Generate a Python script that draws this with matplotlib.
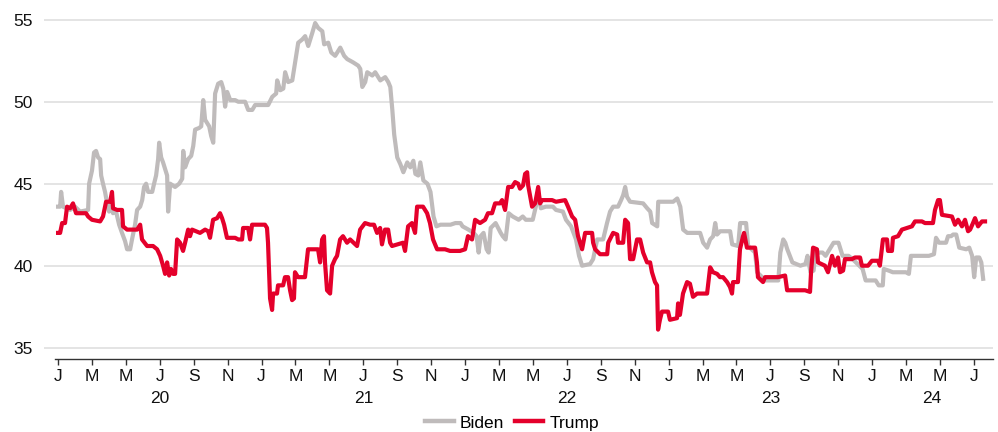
import matplotlib
matplotlib.use("Agg")
import matplotlib.pyplot as plt
import matplotlib.transforms as mtransforms
from matplotlib.lines import Line2D

plt.rcParams['font.family'] = ['Liberation Sans', 'DejaVu Sans']

# x values: months since Jan 2020
biden_months = [0.00, 0.12, 0.18, 0.29, 0.71, 1.00, 1.30, 1.77, 1.83, 2.00, 2.12, 2.24, 2.36, 2.48, 2.54,
                2.65, 2.77, 2.89, 3.01, 3.13, 3.24, 3.42, 3.60, 3.77, 3.95, 4.07, 4.25, 4.36, 4.54, 4.66,
                4.84, 4.96, 5.07, 5.19, 5.31, 5.55, 5.66, 5.78, 5.90, 5.96, 6.08, 6.19, 6.31, 6.43, 6.49,
                6.61, 6.90, 7.14, 7.32, 7.38, 7.49, 7.67, 7.85, 7.97, 8.08, 8.32, 8.44, 8.56, 8.67, 8.91,
                9.03, 9.15, 9.26, 9.44, 9.62, 9.74, 9.85, 9.97, 10.15, 10.44, 10.62, 11.03, 11.21, 11.45,
                11.62, 12.39, 12.63, 12.86, 12.92, 13.10, 13.28, 13.39, 13.57, 13.81, 13.98, 14.16, 14.40,
                14.57, 14.75, 14.99, 15.16, 15.34, 15.58, 15.69, 15.93, 16.11, 16.34, 16.64, 16.87, 17.05,
                17.40, 17.70, 17.82, 17.94, 18.11, 18.23, 18.53, 18.70, 19.00, 19.29, 19.47, 19.59, 19.71,
                19.82, 20.00, 20.18, 20.36, 20.59, 20.77, 20.95, 21.07, 21.24, 21.36, 21.54, 21.78, 21.96,
                22.14, 22.31, 22.55, 23.14, 23.43, 23.73, 23.85, 24.20, 24.50, 24.68, 24.80, 24.92, 25.09,
                25.27, 25.39, 25.51, 25.80, 26.10, 26.22, 26.39, 26.57, 26.81, 27.16, 27.40, 27.58, 27.99,
                28.17, 28.35, 28.47, 28.76, 29.18, 29.36, 29.77, 29.95, 30.25, 30.54, 30.72, 30.90, 31.37,
                31.55, 31.79, 32.14, 32.37, 32.55, 32.73, 33.02, 33.20, 33.32, 33.44, 33.55, 33.73, 34.50,
                34.74, 34.92, 35.03, 35.33, 35.39, 36.27, 36.51, 36.69, 36.86, 37.10, 37.86, 38.04, 38.27,
                38.45, 38.63, 38.75, 38.86, 39.04, 39.63, 39.75, 40.10, 40.22, 40.57, 40.69, 41.10, 41.22,
                41.52, 41.70, 42.47, 42.59, 42.76, 42.88, 43.00, 43.30, 43.77, 44.07, 44.19, 44.37, 44.55,
                44.66, 45.08, 45.26, 45.55, 45.73, 46.02, 46.26, 46.61, 46.85, 47.44, 47.62, 48.21, 48.39,
                48.63, 48.69, 48.98, 49.22, 49.99, 50.17, 50.29, 51.35, 51.65, 51.77, 51.95, 52.36, 52.48,
                52.66, 52.78, 52.96, 53.14, 53.55, 53.73, 53.90, 54.02, 54.14, 54.32, 54.44, 54.55]
biden_values = [43.6, 43.6, 44.5, 43.6, 43.4, 43.6, 43.3, 43.4, 45.0, 45.8, 46.9, 47.0, 46.6, 46.5, 45.5,
                45.0, 44.5, 43.8, 43.3, 44.0, 43.2, 43.3, 42.5, 42.0, 41.5, 41.0, 41.0, 41.6, 42.5, 43.4,
                43.6, 44.0, 44.8, 45.0, 44.5, 44.5, 45.0, 45.5, 46.5, 47.5, 46.6, 46.3, 45.9, 45.5, 43.3,
                45.0, 44.8, 45.0, 45.3, 47.0, 46.0, 46.5, 46.7, 47.3, 48.3, 48.4, 48.5, 50.1, 48.9, 48.5,
                47.9, 47.5, 50.5, 51.1, 51.2, 50.8, 49.7, 50.6, 50.1, 50.1, 50.0, 50.0, 49.5, 49.5,
                49.8, 49.8, 50.3, 50.5, 51.3, 50.7, 50.8, 51.8, 51.2, 51.3, 52.4, 53.6, 53.8,
                54.0, 53.4, 54.2, 54.8, 54.5, 54.3, 53.5, 53.6, 53.0, 52.8, 53.3, 52.8, 52.6,
                52.4, 52.2, 52.0, 50.9, 51.2, 51.8, 51.6, 51.8, 51.3, 51.5, 51.2, 50.9, 49.5,
                48.0, 46.6, 46.2, 45.7, 46.3, 46.0, 46.4, 45.6, 45.5, 46.3, 45.2, 45.0, 44.5,
                43.0, 42.4, 42.5, 42.5, 42.6, 42.6, 42.4, 42.2, 42.0, 41.8, 40.8, 41.8, 42.0,
                41.0, 40.8, 42.3, 42.6, 42.0, 41.8, 41.6, 43.2, 43.0, 42.8, 43.0, 42.8, 42.8,
                43.6, 44.3, 43.5, 43.6, 43.6, 43.4, 43.3, 42.8, 42.4, 41.6, 40.6, 40.0, 40.1,
                40.4, 41.6, 41.6, 42.6, 43.3, 43.6, 43.6, 44.0, 44.3, 44.8, 44.2, 43.9, 43.8,
                43.5, 43.3, 42.6, 42.4, 43.9, 43.9, 44.1, 43.6, 42.2, 42.0, 42.0, 41.4, 41.1,
                41.6, 41.8, 42.6, 41.9, 42.1, 42.1, 41.3, 41.2, 42.6, 42.6, 41.2, 40.8, 39.6,
                39.3, 39.1, 39.1, 40.8, 41.6, 41.4, 41.0, 40.2, 40.0, 40.1, 40.6, 39.6, 39.7,
                40.8, 40.8, 40.6, 41.1, 41.4, 41.4, 40.6, 40.6, 40.4, 39.8, 39.1, 39.1, 38.8,
                38.8, 39.8, 39.7, 39.6, 39.6, 39.5, 40.6, 40.6, 40.7, 41.7, 41.4, 41.4, 41.8,
                41.8, 41.9, 41.9, 41.1, 41.0, 41.1, 40.6, 39.3, 40.5, 40.5, 40.2, 39.2]

trump_months = [0.00, 0.12, 0.24, 0.41, 0.53, 0.71, 0.88, 1.06, 1.65, 1.77, 2.00, 2.48, 2.65, 2.83, 3.07,
                3.18, 3.24, 3.48, 3.77, 3.83, 4.07, 4.66, 4.84, 4.95, 5.25, 5.60, 5.84, 6.02, 6.19, 6.31,
                6.43, 6.55, 6.66, 6.78, 6.90, 7.02, 7.19, 7.37, 7.49, 7.67, 7.78, 7.90, 8.37, 8.67, 8.85,
                8.96, 9.14, 9.38, 9.55, 9.67, 9.79, 9.96, 10.44, 10.62, 10.85, 10.91, 11.21, 11.32, 11.44,
                12.20, 12.32, 12.38, 12.50, 12.62, 12.68, 12.91, 12.97, 13.27, 13.38, 13.56, 13.68, 13.80,
                13.91, 13.97, 14.15, 14.56, 14.74, 15.33, 15.45, 15.57, 15.68, 15.74, 15.86, 16.04, 16.16,
                16.33, 16.45, 16.63, 16.80, 17.04, 17.22, 17.63, 17.81, 18.10, 18.40, 18.63, 18.81, 18.99,
                19.10, 19.28, 19.46, 19.58, 19.69, 20.34, 20.46, 20.64, 20.87, 21.05, 21.17, 21.52, 21.76,
                21.93, 22.11, 22.35, 22.82, 23.11, 23.70, 24.00, 24.17, 24.41, 24.59, 24.88, 25.18, 25.35,
                25.59, 25.77, 26.06, 26.18, 26.36, 26.54, 26.77, 26.95, 27.13, 27.24, 27.42, 27.54, 27.66,
                27.72, 27.95, 28.13, 28.31, 28.42, 28.54, 29.13, 29.36, 29.90, 30.07, 30.31, 30.49, 30.66,
                30.90, 31.08, 31.49, 31.55, 31.67, 31.96, 32.38, 32.44, 32.73, 32.97, 33.02, 33.32, 33.44,
                33.61, 33.73, 33.91, 34.14, 34.32, 34.50, 34.73, 34.91, 35.02, 35.20, 35.32, 35.38, 35.49,
                35.61, 35.97, 36.08, 36.50, 36.56, 36.67, 36.85, 37.09, 37.26, 37.44, 37.68, 38.27, 38.45,
                38.62, 38.86, 39.03, 39.21, 39.45, 39.62, 39.74, 39.80, 40.09, 40.21, 40.39, 40.45, 40.62,
                41.10, 41.21, 41.27, 41.57, 41.69, 42.45, 42.87, 42.99, 44.05, 44.34, 44.40, 44.52, 44.75,
                44.81, 45.22, 45.40, 45.64, 45.81, 45.99, 46.11, 46.29, 46.40, 46.81, 46.99, 47.29, 47.40,
                47.76, 47.99, 48.35, 48.46, 48.64, 48.88, 48.94, 49.17, 49.23, 49.53, 49.76, 50.35, 50.53,
                50.94, 51.12, 51.59, 51.71, 51.89, 52.00, 52.12, 52.71, 52.89, 53.07, 53.30, 53.48, 53.66,
                53.78, 53.95, 54.07, 54.25, 54.48, 54.66]
trump_values = [42.0, 42.0, 42.6, 42.6, 43.6, 43.5, 43.8, 43.2, 43.2, 43.0, 42.8, 42.7, 43.0, 43.9, 43.9,
                44.5, 43.5, 43.4, 43.4, 42.4, 42.2, 42.2, 42.5, 41.6, 41.2, 41.2, 41.0, 40.6, 40.0, 39.5,
                40.2, 39.4, 39.8, 39.5, 39.5, 41.6, 41.4, 40.9, 41.4, 42.2, 41.8, 42.2, 42.0, 42.2, 42.1,
                41.7, 42.8, 42.9, 43.2, 42.9, 42.5, 41.7, 41.7, 41.6, 41.6, 42.3, 42.3, 41.6, 42.5,
                42.5, 42.3, 41.4, 38.0, 37.3, 38.3, 38.3, 38.8, 38.8, 39.3, 39.3, 38.5, 37.9,
                38.0, 39.6, 39.3, 39.3, 41.0, 41.0, 40.2, 41.6, 41.8, 40.2, 38.5, 38.3, 40.0,
                40.4, 40.6, 41.6, 41.8, 41.4, 41.6, 41.2, 42.2, 42.6, 42.5, 42.5, 42.0, 42.3,
                41.3, 42.2, 42.2, 41.4, 41.2, 41.4, 40.9, 42.4, 42.6, 42.0, 43.6, 43.6, 43.2,
                42.6, 41.6, 41.0, 41.0, 40.9, 40.9, 41.0, 41.8, 41.6, 42.8, 42.6, 42.8, 43.2,
                43.2, 43.8, 43.8, 44.0, 43.4, 44.8, 44.8, 45.1, 45.0, 44.7, 44.9, 45.6, 45.7,
                44.9, 43.6, 43.8, 44.8, 43.8, 44.0, 44.0, 43.9, 44.0, 43.6, 43.0, 42.8, 41.8,
                41.0, 42.0, 42.0, 41.4, 41.0, 40.7, 40.7, 41.4, 42.0, 41.9, 41.4, 41.4, 42.8,
                42.6, 40.4, 40.4, 41.6, 41.6, 40.8, 40.2, 40.2, 39.6, 39.0, 38.8, 36.1, 36.7,
                37.2, 37.2, 36.7, 36.8, 37.7, 37.0, 38.3, 39.0, 38.9, 38.1, 38.3, 38.3, 39.9,
                39.6, 39.5, 39.3, 39.3, 39.0, 38.7, 38.3, 39.0, 39.0, 41.0, 41.8, 42.0, 41.1,
                41.1, 40.2, 39.3, 39.0, 39.3, 39.3, 39.4, 38.5, 38.5, 38.4, 39.6, 41.1, 41.0,
                40.2, 40.0, 39.6, 40.6, 40.0, 40.5, 39.6, 39.7, 40.4, 40.4, 40.5, 40.5, 40.0,
                40.0, 40.3, 40.3, 40.0, 41.6, 41.6, 40.9, 40.9, 41.7, 41.8, 42.2, 42.4, 42.7,
                42.7, 42.6, 42.6, 43.4, 44.0, 44.0, 43.1, 43.0, 42.5, 42.8, 42.4, 42.8, 42.1,
                42.2, 42.6, 42.9, 42.4, 42.7, 42.7]

month_labels = ['J', 'M', 'M', 'J', 'S', 'N'] * 4 + ['J', 'M', 'M', 'J']
tick_months = list(range(0, 55, 2))
year_labels = ['20', '21', '22', '23', '24']
year_label_pos = [6, 18, 30, 42, 51.5]
y_ticks = [35, 40, 45, 50, 55]

BIDEN_C = '#bfbbbb'
TRUMP_C = '#e4002b'
FS = 12.5

fig = plt.figure(figsize=(9.98, 4.32), dpi=100)
ax = fig.add_axes([44 / 998, 1 - 359.3 / 432, 949 / 998, 354.3 / 432])

ax.plot(biden_months, biden_values, color=BIDEN_C, lw=3.0, solid_joinstyle='round', zorder=3)
ax.plot(trump_months, trump_values, color=TRUMP_C, lw=3.0, solid_joinstyle='round', zorder=4)

ax.set_xlim(-0.83, 55.13)
ax.set_ylim(34.29, 55.9)

ax.set_yticks(y_ticks)
ax.set_yticklabels([str(v) for v in y_ticks])
ax.yaxis.grid(True, color='#e2e2e2', lw=1.3)
ax.set_axisbelow(True)
ax.tick_params(axis='y', length=0, pad=8, labelsize=FS, labelcolor='#111111')

ax.set_xticks(tick_months)
ax.set_xticklabels(month_labels)
ax.tick_params(axis='x', which='major', direction='out', length=4, width=1, color='#333333',
               pad=3, labelsize=FS, labelcolor='#111111')
ax.set_xticks([0, 12, 24, 36, 48], minor=True)
ax.tick_params(axis='x', which='minor', direction='inout', length=8, width=1, color='#333333')

for side in ['top', 'right', 'left']:
    ax.spines[side].set_visible(False)
ax.spines['bottom'].set_bounds(-0.18, 55.13)
ax.spines['bottom'].set_color('#333333')
ax.spines['bottom'].set_linewidth(1)

trans = mtransforms.blended_transform_factory(ax.transData, ax.transAxes)
for lab, pos in zip(year_labels, year_label_pos):
    ax.text(pos, -0.112, lab, transform=trans, ha='center', va='center', fontsize=FS, color='#111111')

handles = [Line2D([], [], color=BIDEN_C, lw=3.2), Line2D([], [], color=TRUMP_C, lw=3.2)]
fig.legend(handles, ['Biden', 'Trump'], loc='center', bbox_to_anchor=(0.513, 1 - 423 / 432),
           ncol=2, frameon=False, fontsize=FS, handlelength=1.65, handletextpad=0.35,
           columnspacing=0.6, borderaxespad=0, borderpad=0)

fig.savefig('out.png', dpi=100)
